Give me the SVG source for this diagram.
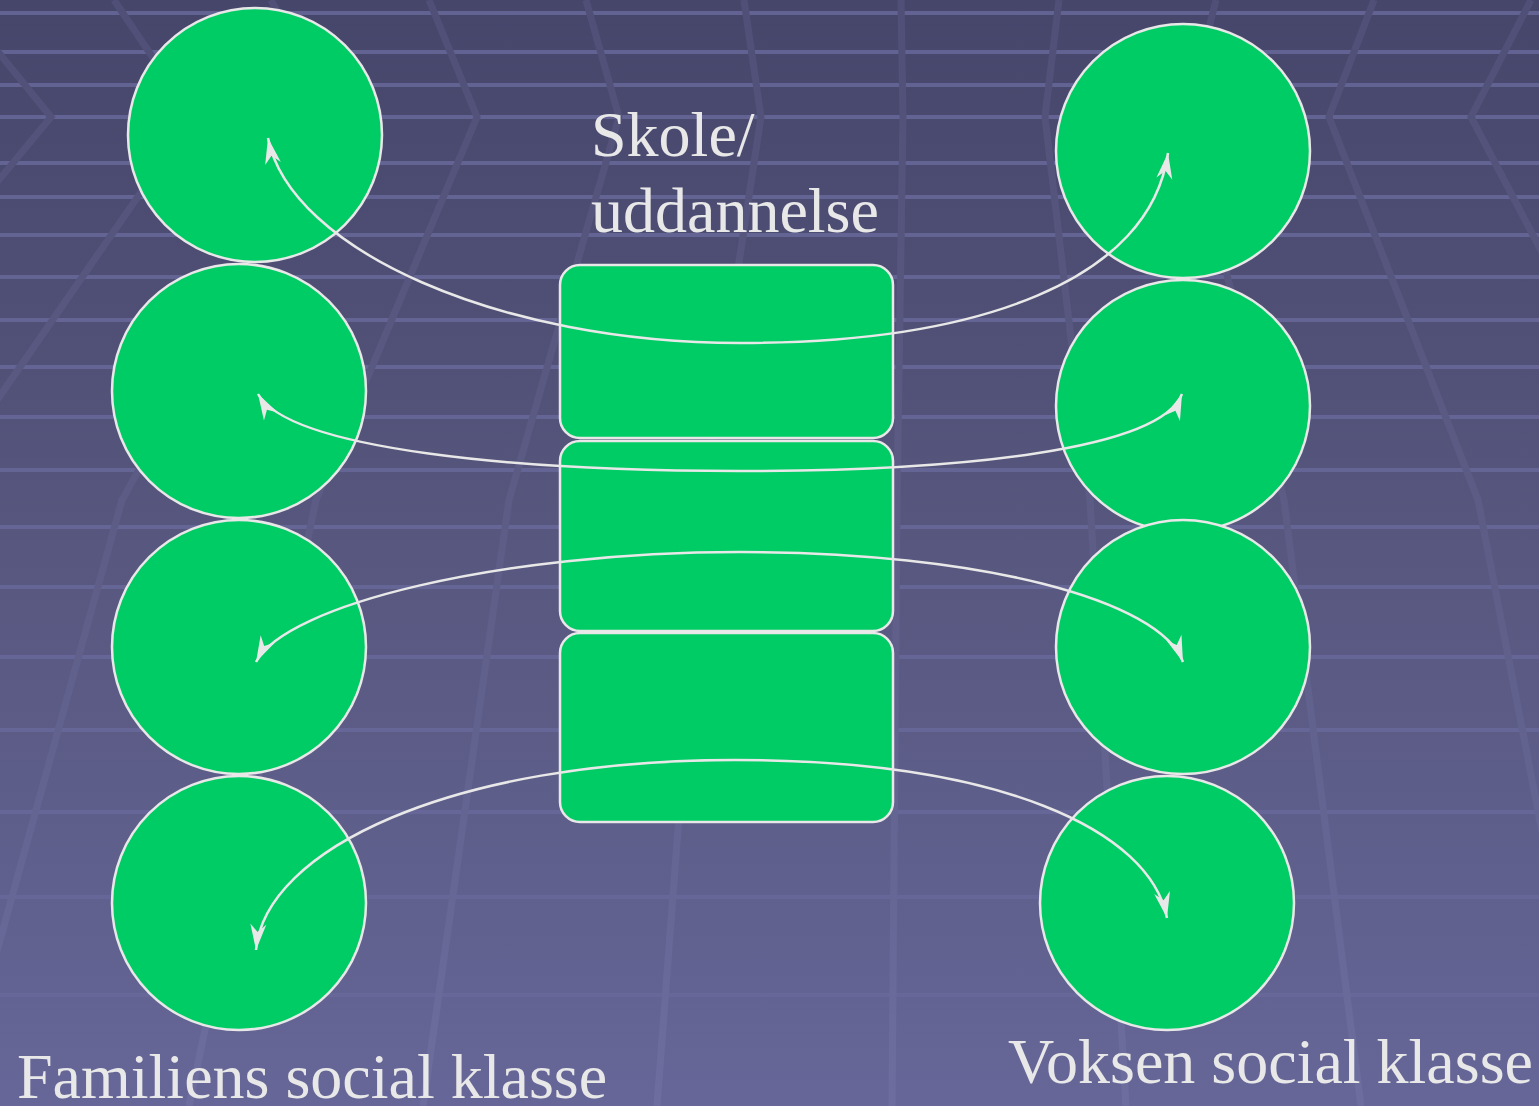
<svg xmlns="http://www.w3.org/2000/svg" width="1539" height="1106" viewBox="0 0 1539 1106">
<defs>
<linearGradient id="bg" x1="0" y1="0" x2="0" y2="1106" gradientUnits="userSpaceOnUse">
<stop offset="0" stop-color="#46466b"/>
<stop offset="0.5" stop-color="#57577f"/>
<stop offset="1" stop-color="#666698"/>
</linearGradient>
<linearGradient id="vl" x1="0" y1="0" x2="0" y2="1106" gradientUnits="userSpaceOnUse">
<stop offset="0" stop-color="#4f4f77"/>
<stop offset="0.5" stop-color="#5d5d87"/>
<stop offset="1" stop-color="#6d6d9f"/>
</linearGradient>
<marker id="arr" markerUnits="userSpaceOnUse" markerWidth="30" markerHeight="20" viewBox="-27 -10 30 20" refX="0" refY="0" orient="auto-start-reverse">
<path d="M0,0 L-26,-8 L-18,0 L-26,8 Z" fill="#e8e8e8"/>
</marker>
<style>
.stripe{fill:#67679a;opacity:0.85}
.vline{fill:none;stroke:url(#vl);stroke-width:7}
.node{fill:#00cc66;stroke:#e8e8e8;stroke-width:2.5}
.conn{fill:none;stroke:#e8e8e8;stroke-width:2.5;marker-start:url(#arr);marker-end:url(#arr)}
.lbl{font-family:"Liberation Serif","Times New Roman",serif;font-size:64px;fill:#e8e8e8}
</style>
</defs>
<g id="background">
<rect x="0" y="0" width="1539" height="1106" fill="url(#bg)"/>
<g id="stripes">
<rect class="stripe" x="0" y="11" width="1539" height="4"/>
<rect class="stripe" x="0" y="50" width="1539" height="4"/>
<rect class="stripe" x="0" y="83" width="1539" height="4"/>
<rect class="stripe" x="0" y="115" width="1539" height="4"/>
<rect class="stripe" x="0" y="161" width="1539" height="4"/>
<rect class="stripe" x="0" y="195" width="1539" height="4"/>
<rect class="stripe" x="0" y="233" width="1539" height="4"/>
<rect class="stripe" x="0" y="275" width="1539" height="4"/>
<rect class="stripe" x="0" y="318" width="1539" height="4"/>
<rect class="stripe" x="0" y="365" width="1539" height="4"/>
<rect class="stripe" x="0" y="415" width="1539" height="4"/>
<rect class="stripe" x="0" y="468" width="1539" height="4"/>
<rect class="stripe" x="0" y="525" width="1539" height="4"/>
<rect class="stripe" x="0" y="585" width="1539" height="4"/>
<rect class="stripe" x="0" y="655" width="1539" height="4"/>
<rect class="stripe" x="0" y="728" width="1539" height="4"/>
<rect class="stripe" x="0" y="810" width="1539" height="4" opacity="0.6"/>
<rect class="stripe" x="0" y="895" width="1539" height="4" opacity="0.5"/>
<rect class="stripe" x="0" y="993" width="1539" height="4" opacity="0.5"/>
</g>
<g id="vlines">
<path class="vline" d="M-44,0 L51,117 L-266,500 L-515,1106"/>
<path class="vline" d="M114,0 L193,117 L-72,500 L-280,1106"/>
<path class="vline" d="M271,0 L335,117 L122,500 L-46,1106"/>
<path class="vline" d="M429,0 L477,117 L316,500 L189,1106"/>
<path class="vline" d="M586,0 L619,117 L509,500 L423,1106"/>
<path class="vline" d="M744,0 L761,117 L703,500 L657,1106"/>
<path class="vline" d="M901,0 L903,117 L897,500 L892,1106"/>
<path class="vline" d="M1059,0 L1045,117 L1090,500 L1126,1106"/>
<path class="vline" d="M1216,0 L1187,117 L1284,500 L1361,1106"/>
<path class="vline" d="M1374,0 L1329,117 L1478,500 L1595,1106"/>
<path class="vline" d="M1531,0 L1471,117 L1672,500 L1829,1106"/>
</g>
</g>
<g id="left-circle-1"><ellipse class="node" cx="255" cy="135" rx="127" ry="127"/></g>
<g id="left-circle-2"><ellipse class="node" cx="239" cy="391" rx="127" ry="127"/></g>
<g id="left-circle-3"><ellipse class="node" cx="239" cy="647" rx="127" ry="127"/></g>
<g id="left-circle-4"><ellipse class="node" cx="239" cy="903" rx="127" ry="127"/></g>
<g id="right-circle-1"><ellipse class="node" cx="1183" cy="151" rx="127" ry="127"/></g>
<g id="right-circle-2"><ellipse class="node" cx="1183" cy="406" rx="127" ry="126"/></g>
<g id="right-circle-3"><ellipse class="node" cx="1183" cy="647" rx="127" ry="127"/></g>
<g id="right-circle-4"><ellipse class="node" cx="1167" cy="903" rx="127" ry="127"/></g>
<g id="school-1"><rect class="node" x="560" y="265" width="333" height="173" rx="20" ry="20"/></g>
<g id="school-2"><rect class="node" x="560" y="441" width="333" height="190" rx="20" ry="20"/></g>
<g id="school-3"><rect class="node" x="560" y="633" width="333" height="189" rx="20" ry="20"/></g>
<g id="connectors">
<path class="conn" d="M268,138 C290,250 500,343 740,343 C980,343 1150,280 1168,153"/>
<path class="conn" d="M258,394 C290,450 520,471 740,471 C960,471 1160,450 1182,394"/>
<path class="conn" d="M256,662 C285,605 500,552 740,552 C980,552 1160,600 1183,662"/>
<path class="conn" d="M256,950 C265,850 450,760 735,760 C1000,760 1150,830 1167,918"/>
</g>
<g id="labels">
<text class="lbl" x="591" y="156">Skole/</text>
<text class="lbl" x="591" y="232">uddannelse</text>
<text class="lbl" x="17" y="1098">Familiens social klasse</text>
<text class="lbl" x="1008" y="1083">Voksen social klasse</text>
</g>
</svg>
